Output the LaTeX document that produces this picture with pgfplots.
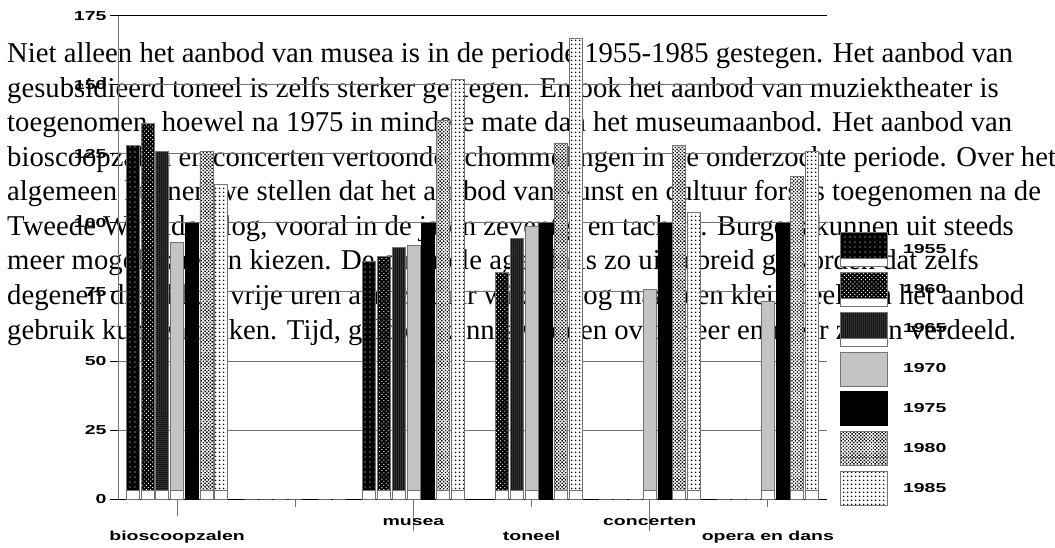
\documentclass[border=0pt]{standalone}
\usepackage{fontspec}
\setmainfont{Liberation Serif}
\newfontfamily\lsans{Liberation Sans}
\usepackage{pgfplots}
\pgfplotsset{compat=1.18}
\usetikzlibrary{patterns,patterns.meta}
\newcommand\labfont{\lsans\bfseries\fontsize{13pt}{15pt}\selectfont}
\newcommand\wide[1]{\scalebox{1.5}[1]{#1}}
\pgfplotsset{
  legbox/.style={legend image code/.code={\draw[##1] (0pt,-17pt) rectangle (47pt,17pt);}},
  legboxw/.style={legend image code/.code={\draw[##1] (0pt,-17pt) rectangle (47pt,17pt);
      \draw[fill=white,draw=black!55,line width=0.8pt] (0pt,-17pt) rectangle (47pt,-9pt);}},
  strip/.style={fill=white, draw=black!55, line width=0.8pt, forget plot},
}
\begin{document}
\begin{tikzpicture}
\useasboundingbox (0pt,0pt) rectangle (1055pt,547pt);
\begin{scope}[every node/.style={anchor=base west, inner sep=0pt, font=\fontsize{28.7pt}{34pt}\selectfont}]
\node at (7pt,484pt) {Niet alleen het aanbod van musea is in de periode 1955-1985 gestegen. Het aanbod van};
\node at (7pt,449.5pt) {gesubsidieerd toneel is zelfs sterker gestegen. En ook het aanbod van muziektheater is};
\node at (7pt,415pt) {toegenomen, hoewel na 1975 in mindere mate dan het museumaanbod. Het aanbod van};
\node at (7pt,380.5pt) {bioscoopzalen en concerten vertoonde schommelingen in de onderzochte periode. Over het};
\node at (7pt,346pt) {algemeen kunnen we stellen dat het aanbod van kunst en cultuur fors is toegenomen na de};
\node at (7pt,311.5pt) {Tweede Wereldoorlog, vooral in de jaren zeventig en tachtig. Burgers kunnen uit steeds};
\node at (7pt,277pt) {meer mogelijkheden kiezen. De culturele agenda is zo uitgebreid geworden dat zelfs};
\node at (7pt,242.5pt) {degenen die al hun vrije uren aan cultuur wijden nog maar een klein deel van het aanbod};
\node at (7pt,208pt) {gebruik kunnen maken. Tijd, geld en kennis worden over meer en meer zaken verdeeld.};
\end{scope}
\begin{axis}[
  at={(118pt,48pt)}, anchor=south west,
  scale only axis, width=709pt, height=483pt,
  xmin=-0.5, xmax=5.5, ymin=0, ymax=175,
  clip=false,
  axis x line*=bottom, axis y line*=left,
  axis line style={-, line width=1pt},
  x axis line style={black},
  y axis line style={black!55},
  tick align=outside,
  xtick={0,1,2,3,4,5}, xticklabels={},
  minor xtick={0}, minor tick length=17pt,
  major tick length=8pt,
  extra x ticks={2,4}, extra x tick labels={},
  extra x tick style={major tick length=32pt},
  xtick style={black!55, line width=1pt},
  ytick={0,25,50,75,100,125,150,175},
  yticklabels={\wide{0},\wide{25},\wide{50},\wide{75},\wide{100},\wide{125},\wide{150},\wide{175}},
  ytick style={black, line width=1pt},
  yticklabel style={font=\labfont, anchor=east},
  ymajorgrids, grid style={black!55, line width=1pt},
  extra y ticks={175}, extra y tick labels={},
  extra y tick style={grid style={black, line width=1pt}},
  ybar, bar width=13pt,
  legend style={at={(1.01834,0.5528)}, anchor=north west, draw=none, fill=none,
    inner sep=0pt, row sep=5pt, column sep=15pt, font=\labfont,
    nodes={xscale=1.5, inner sep=0pt}},
  legend cell align=left,
]
% 1955
\addplot[fill=black, draw=black!55, line width=0.8pt, bar shift=-44.1pt, legboxw,
  postaction={pattern={Dots[distance=5pt,radius=0.7pt]}, pattern color=white}]
  coordinates {(0,128) (1,0) (2,86) (4,0) (5,0)};
\addlegendentry{1955}
% 1960
\addplot[fill=black, draw=black!55, line width=0.8pt, bar shift=-29.4pt, legboxw,
  postaction={pattern={Dots[distance=3pt,radius=0.7pt,angle=45]}, pattern color=white}]
  coordinates {(0,136) (1,0) (2,88) (3,82) (4,0) (5,0)};
\addlegendentry{1960}
% 1965
\addplot[fill=black, draw=black!55, line width=0.8pt, bar shift=-14.7pt, legboxw,
  postaction={pattern={Dots[distance=2pt,radius=0.5pt]}, pattern color=white}]
  coordinates {(0,126) (1,0) (2,91) (3,94.5) (4,0) (5,0)};
\addlegendentry{1965}
% 1970
\addplot[fill=white, draw=black!55, line width=0.8pt, bar shift=0pt, legbox,
  postaction={pattern={Dots[distance=2pt,radius=0.55pt]}, pattern color=black}]
  coordinates {(0,93) (1,0) (2,92) (3,98.7) (4,76) (5,71.5)};
\addlegendentry{1970}
% 1975
\addplot[fill=black, draw=black, line width=0.8pt, bar shift=14.7pt, legbox]
  coordinates {(0,100) (1,0) (2,100) (3,100) (4,100) (5,100)};
\addlegendentry{1975}
% 1980
\addplot[fill=white, draw=black!55, line width=0.8pt, bar shift=29.4pt, legboxw,
  postaction={pattern={Dots[distance=2.5pt,radius=1pt,angle=45]}, pattern color=black}]
  coordinates {(0,126) (1,0) (2,137) (3,129) (4,128) (5,117)};
\addlegendentry{1980}
% 1985
\addplot[fill=white, draw=black!55, line width=0.8pt, bar shift=44.1pt, legbox,
  postaction={pattern={Dots[distance=4pt,radius=1pt]}, pattern color=black}]
  coordinates {(0,114) (1,0) (2,152) (3,167) (4,104) (5,126)};
\addlegendentry{1985}
% white strips at the foot of the patterned bars
\addplot[strip, bar shift=-44.1pt] coordinates {(0,3) (2,3)};
\addplot[strip, bar shift=-29.4pt] coordinates {(0,3) (2,3) (3,3)};
\addplot[strip, bar shift=-14.7pt] coordinates {(0,3) (2,3) (3,3)};
\addplot[strip, bar shift=0pt] coordinates {(0,3) (2,3) (3,3) (4,3) (5,3)};
\addplot[strip, bar shift=29.4pt] coordinates {(0,3) (2,3) (3,3) (4,3) (5,3)};
\addplot[strip, bar shift=44.1pt] coordinates {(0,3) (2,3) (3,3) (4,3) (5,3)};
% category labels
\node[anchor=base, font=\labfont, xscale=1.5, yshift=-41pt] at (axis cs:0,0) {bioscoopzalen};
\node[anchor=base, font=\labfont, xscale=1.5, yshift=-26pt] at (axis cs:2,0) {musea};
\node[anchor=base, font=\labfont, xscale=1.5, yshift=-41pt] at (axis cs:3,0) {toneel};
\node[anchor=base, font=\labfont, xscale=1.5, yshift=-26pt] at (axis cs:4,0) {concerten};
\node[anchor=base, font=\labfont, xscale=1.5, yshift=-41pt] at (axis cs:5,0) {opera en dans};
\end{axis}
\end{tikzpicture}
\end{document}
